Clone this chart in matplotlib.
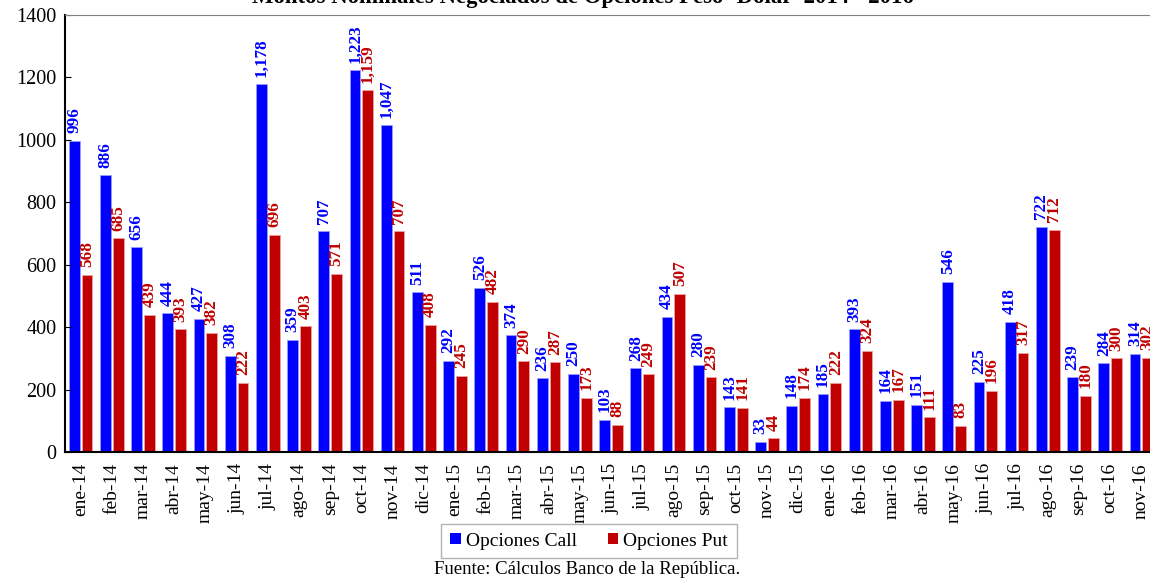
import numpy as np
import matplotlib
matplotlib.use("Agg")
import matplotlib.pyplot as plt
from matplotlib.ticker import MultipleLocator

plt.rcParams["font.family"] = ["Liberation Serif", "DejaVu Serif"]

meses = ["ene-14", "feb-14", "mar-14", "abr-14", "may-14", "jun-14", "jul-14", "ago-14",
         "sep-14", "oct-14", "nov-14", "dic-14", "ene-15", "feb-15", "mar-15", "abr-15",
         "may-15", "jun-15", "jul-15", "ago-15", "sep-15", "oct-15", "nov-15", "dic-15",
         "ene-16", "feb-16", "mar-16", "abr-16", "may-16", "jun-16", "jul-16", "ago-16",
         "sep-16", "oct-16", "nov-16"]
call = [996, 886, 656, 444, 427, 308, 1178, 359, 707, 1223, 1047, 511, 292, 526, 374, 236,
        250, 103, 268, 434, 280, 143, 33, 148, 185, 393, 164, 151, 546, 225, 418, 722,
        239, 284, 314]
put = [568, 685, 439, 393, 382, 222, 696, 403, 571, 1159, 707, 408, 245, 482, 290, 287,
       173, 88, 249, 507, 239, 141, 44, 174, 222, 324, 167, 111, 83, 196, 317, 712,
       180, 300, 302]

AZUL = "#0000ff"
ROJO = "#c00000"

fig = plt.figure(figsize=(11.5, 5.8), dpi=100)
# el eje se sale un poco por la derecha, como en el informe original
ax = fig.add_axes([65 / 1150, 128 / 580, 1092 / 1150, 437 / 580])

x = np.arange(len(meses))
w = 0.35
off = 0.205
b1 = ax.bar(x - off, call, w, color=AZUL, edgecolor="#9a9aff", linewidth=0.6, label="Opciones Call")
b2 = ax.bar(x + off, put, w, color=ROJO, edgecolor="#f0a0a0", linewidth=0.6, label="Opciones Put")

for bars, vals, col in ((b1, call, AZUL), (b2, put, ROJO)):
    for b, v in zip(bars, vals):
        ax.annotate(f"{v:,}", (b.get_x() + b.get_width() / 2, v), xytext=(0, 5.5),
                    textcoords="offset points", rotation=90, ha="center", va="bottom",
                    fontsize=12.3, fontweight="bold", color=col)

ax.set_xlim(-0.5, len(meses) - 0.5)
ax.set_ylim(0, 1400)
ax.yaxis.set_major_locator(MultipleLocator(200))
ax.set_xticks(x)
ax.set_xticklabels(meses, rotation=90, fontsize=14)
ax.tick_params(axis="x", length=0, pad=8)
ax.tick_params(axis="y", direction="in", length=4, labelsize=14.5, pad=6)

ax.spines["left"].set_linewidth(1.5)
ax.spines["bottom"].set_linewidth(1.5)
ax.spines["top"].set_color("#808080")
ax.spines["right"].set_visible(False)

fig.text(583 / 1150, 1 - 3 / 580, "Montos Nominales Negociados de Opciones Peso- Dólar  2014 - 2016",
         ha="center", va="baseline", fontsize=16.4, fontweight="bold")

leg = fig.legend(loc="center", bbox_to_anchor=(589 / 1150, 1 - 541 / 580), ncol=2,
                 fontsize=14, frameon=True, fancybox=False, handlelength=0.55, handleheight=0.55,
                 handletextpad=0.25, columnspacing=1.6, borderpad=0.45, borderaxespad=0)
leg.get_frame().set_edgecolor("#a0a0a0")
leg.get_frame().set_linewidth(1)
for h in leg.legend_handles:
    h.set_linewidth(0)

fig.text(587 / 1150, 1 - 569 / 580, "Fuente: Cálculos Banco de la República.",
         ha="center", va="center", fontsize=13.5)

fig.savefig("out.png", dpi=100, facecolor="white")
